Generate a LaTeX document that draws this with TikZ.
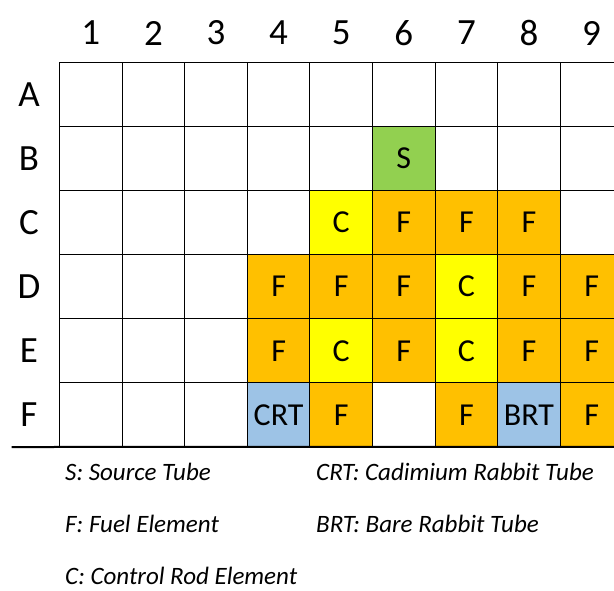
\documentclass[tikz,border=0pt]{standalone}
\usepackage{fontspec}
\setmainfont{Carlito}
\usetikzlibrary{positioning}

\definecolor{fuelc}{HTML}{FFC000}
\definecolor{ctrlc}{HTML}{FFFF00}
\definecolor{srcc}{HTML}{92D050}
\definecolor{rabc}{HTML}{9DC3E6}

\begin{document}
\begin{tikzpicture}[
    x=1pt, y=-1pt,
    cell/.style={draw, line width=1pt, minimum width=62.6pt, minimum height=64.1pt, inner sep=0pt, outer sep=0pt, font=\fontsize{32}{32}\selectfont},
    head/.style={font=\fontsize{37}{37}\selectfont},
    legend/.style={anchor=west, inner sep=0pt, font=\fontsize{25}{25}\selectfont\itshape}
  ]
  \useasboundingbox (0,0) rectangle (614,590);
  \clip (0,0) rectangle (614,590);

  % empty grid
  \foreach \r [count=\i] in {A,B,C,D,E,F} {
    \node[head] (row-\r) at (29, 94.35+64.1*\i-64.1) {\r};
    \foreach \c in {1,...,9}
      \node[cell] (cell-\r-\c) at (59.5+31.3+62.6*\c-62.6, 94.35+64.1*\i-64.1) {};
  }
  \foreach \c in {1,...,9}
    \node[head] (col-\c) at (cell-A-\c |- 0,33) {\c};

  % core loading
  \foreach \r/\c/\t/\f in {B/6/S/srcc,
      C/5/C/ctrlc, C/6/F/fuelc, C/7/F/fuelc, C/8/F/fuelc,
      D/4/F/fuelc, D/5/F/fuelc, D/6/F/fuelc, D/7/C/ctrlc, D/8/F/fuelc, D/9/F/fuelc,
      E/4/F/fuelc, E/5/C/ctrlc, E/6/F/fuelc, E/7/C/ctrlc, E/8/F/fuelc, E/9/F/fuelc,
      F/4/CRT/rabc, F/5/F/fuelc, F/7/F/fuelc, F/8/BRT/rabc, F/9/F/fuelc}
    \node[cell, fill=\f] at (cell-\r-\c) {\t};

  % base line
  \coordinate (baseL) at (11.7,447);
  \coordinate (baseR) at (cell-F-9.south east);
  \draw[line width=2pt] (baseL) -- (baseR);

  % legend
  \node[legend] (leg-S) at (65,472) {S: Source Tube};
  \node[legend] (leg-F) at (65,524) {F: Fuel Element};
  \node[legend] (leg-C) at (65,576) {C: Control Rod Element};
  \node[legend] (leg-CRT) at (316,472) {CRT: Cadimium Rabbit Tube};
  \node[legend] (leg-BRT) at (316,524) {BRT: Bare Rabbit Tube};
\end{tikzpicture}
\end{document}
